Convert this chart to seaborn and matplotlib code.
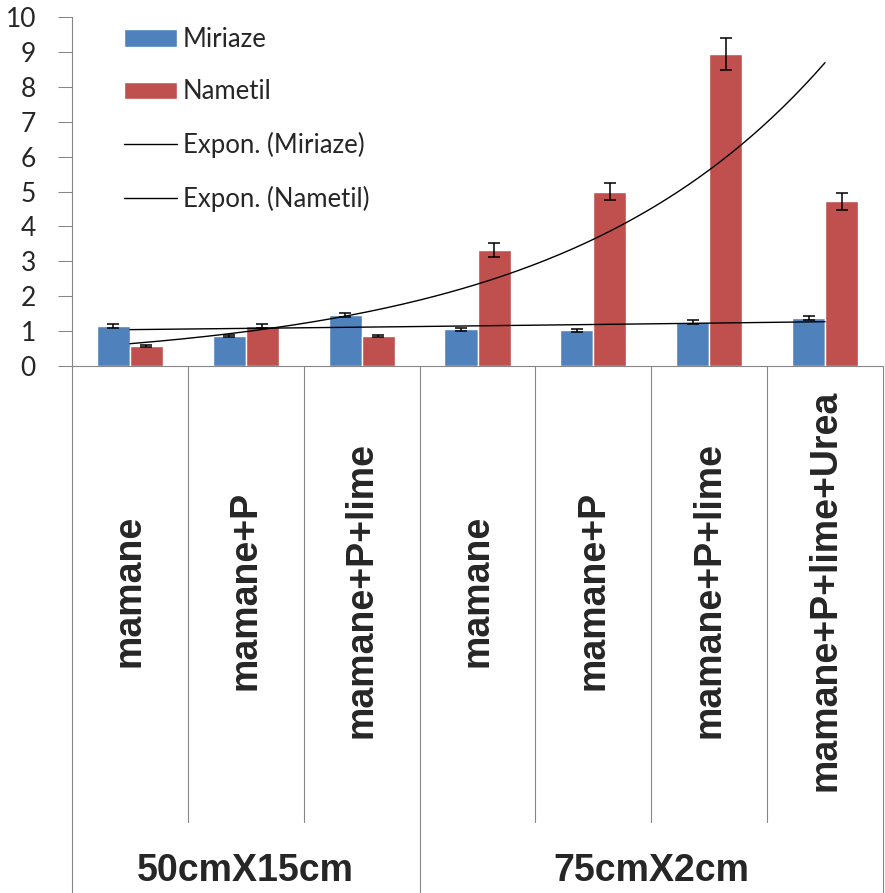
import numpy as np
import pandas as pd
import matplotlib.pyplot as plt
import seaborn as sns
from matplotlib.patches import Patch
from matplotlib.lines import Line2D
from matplotlib.transforms import blended_transform_factory

# values
treatments = ['mamane', 'mamane+P', 'mamane+P+lime',
              'mamane', 'mamane+P', 'mamane+P+lime', 'mamane+P+lime+Urea']
spacings = ['50cmX15cm', '75cmX2cm']
group_sizes = [3, 4]
miriaze = [1.15, 0.85, 1.45, 1.04, 1.01, 1.26, 1.36]
miriaze_err = [0.06, 0.04, 0.05, 0.05, 0.04, 0.05, 0.06]
nametil = [0.565, 1.15, 0.85, 3.32, 5.0, 8.95, 4.72]
nametil_err = [0.04, 0.06, 0.03, 0.19, 0.25, 0.46, 0.24]
yticks = list(range(0, 11))

blue = '#4F81BD'
red = '#C0504D'
axis_grey = '#868686'

groups = [s for s, n in zip(spacings, group_sizes) for _ in range(n)]
cats = [f'{g}|{t}' for g, t in zip(groups, treatments)]
df = pd.DataFrame({
    'cat': cats * 2,
    'series': ['Miriaze'] * len(cats) + ['Nametil'] * len(cats),
    'value': miriaze + nametil,
})

sns.set_style('white')
plt.rcParams['font.family'] = ['Lato', 'DejaVu Sans']

fig = plt.figure(figsize=(8.85, 8.93), dpi=100)
ax = fig.add_axes([0.0814, 0.5905, 0.9163, 0.3901])

sns.barplot(data=df, x='cat', y='value', hue='series', order=cats,
            hue_order=['Miriaze', 'Nametil'], palette=[blue, red],
            width=0.57, saturation=1, errorbar=None, legend=False, ax=ax)

# error bars at the bar centres
for cont, vals, errs in zip(ax.containers, [miriaze, nametil], [miriaze_err, nametil_err]):
    xs = [b.get_x() + b.get_width() / 2 for b in cont]
    ax.errorbar(xs, vals, yerr=errs, fmt='none', ecolor='black',
                elinewidth=1.1, capsize=4.5, capthick=1.1, zorder=4)

# exponential trendlines (least squares on log values, x = 1..7)
xpos = np.arange(1, len(cats) + 1)
xs_fine = np.linspace(1, len(cats), 200)
for vals in [miriaze, nametil]:
    b, a = np.polyfit(xpos, np.log(vals), 1)
    ax.plot(xs_fine - 1, np.exp(a + b * xs_fine), color='black', lw=1.0, zorder=5)

ax.set_xlim(-0.5, len(cats) - 0.5)
ax.set_ylim(0, 10)
ax.set_yticks(yticks)
ax.set_xticks([])
ax.set_xlabel('')
ax.set_ylabel('')
ax.tick_params(axis='y', direction='out', length=10, width=0.75, color=axis_grey,
               pad=16, labelsize=19, left=True)
for side in ['top', 'right']:
    ax.spines[side].set_visible(False)
for side in ['left', 'bottom']:
    ax.spines[side].set_color(axis_grey)
    ax.spines[side].set_linewidth(0.8)

# multi-level category axis below the plot
trans = blended_transform_factory(ax.transData, ax.transAxes)
bounds = np.concatenate([[0], np.cumsum(group_sizes)]) - 0.5
for i in range(len(cats) + 1):
    x = i - 0.5
    y_end = -1.513 if x in bounds else -1.31
    ax.plot([x, x], [0, y_end], transform=trans, clip_on=False,
            color=axis_grey, lw=0.8)

for i, t in enumerate(treatments):
    ax.text(i, -0.645, t, transform=trans, rotation=90, ha='center', va='center',
            fontsize=27, fontweight='bold', family=['Liberation Sans', 'DejaVu Sans'])

for k, s in enumerate(spacings):
    xc = (bounds[k] + bounds[k + 1]) / 2
    ax.text(xc, -1.45, s, transform=trans, ha='center', va='center',
            fontsize=27, fontweight='bold', family=['Liberation Sans', 'DejaVu Sans'])

handles = [Patch(facecolor=blue), Patch(facecolor=red),
           Line2D([], [], color='black', lw=1.0), Line2D([], [], color='black', lw=1.0)]
labels = ['Miriaze', 'Nametil', 'Expon. (Miriaze)', 'Expon. (Nametil)']
fig.legend(handles, labels, loc='upper left', bbox_to_anchor=(124 / 885, 1 - 27 / 893),
           bbox_transform=fig.transFigure, frameon=False, fontsize=18.5,
           handlelength=2.05, handleheight=0.7, handletextpad=0.25,
           labelspacing=1.07, borderpad=0, borderaxespad=0)

fig.savefig('out.png', dpi=100)
